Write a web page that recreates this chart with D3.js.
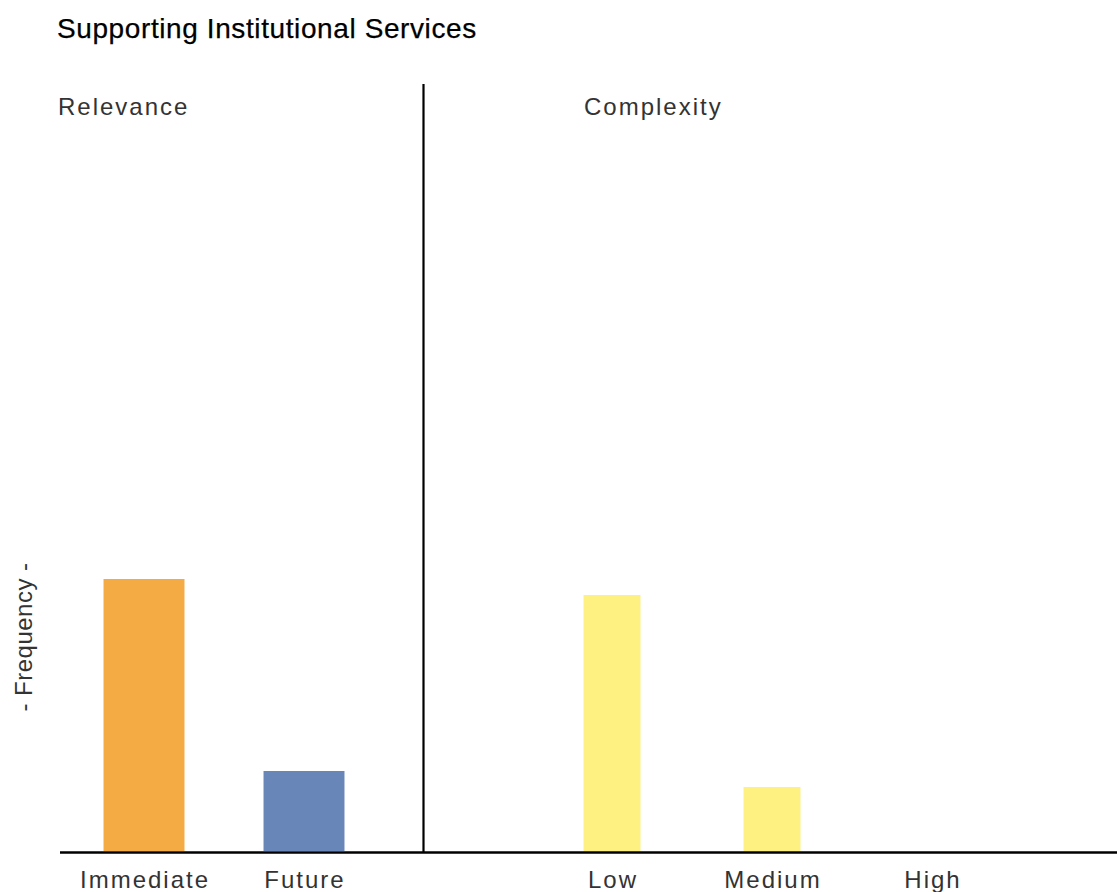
<!DOCTYPE html>
<html>
<head>
<meta charset="utf-8">
<script src="https://cdn.jsdelivr.net/npm/d3@7"></script>
<style>
  html, body { margin: 0; padding: 0; background: #fff; }
  text { font-family: "Liberation Sans", Arial, sans-serif; }
</style>
</head>
<body>
<svg id="chart" width="1117" height="892"></svg>
<script>
const title = "Supporting Institutional Services";
const yAxisLabel = "- Frequency -";

const relevanceTitle = "Relevance";
const relevanceCategories = ["Immediate", "Future"];
const relevanceValues = [17, 5];
const relevanceColors = ["#F4AB44", "#6887B8"];

const complexityTitle = "Complexity";
const complexityCategories = ["Low", "Medium", "High"];
const complexityValues = [16, 4, 0];
const complexityColors = ["#FFF082", "#FFF082", "#FFF082"];

const yMax = 48;

const svg = d3.select("#chart");
const baseY = 851;
const topY = 83;
const LS = 2;

const y = d3.scaleLinear().domain([0, yMax]).range([baseY, topY]);

const xRel = d3.scaleBand().domain(relevanceCategories).range([64, 384])
  .paddingInner(0.494).paddingOuter(0.247);
const xCom = d3.scaleBand().domain(complexityCategories).range([532, 1012])
  .paddingInner(0.644).paddingOuter(0.322);

// title
svg.append("text").attr("x", 57).attr("y", 38)
  .attr("font-size", 28).attr("letter-spacing", 0.6)
  .attr("fill", "#000").attr("stroke", "#000").attr("stroke-width", 0.25)
  .text(title);

// panel titles
svg.append("text").attr("x", 58).attr("y", 115)
  .attr("font-size", 24).attr("letter-spacing", LS).attr("fill", "#333").text(relevanceTitle);
svg.append("text").attr("x", 584).attr("y", 115)
  .attr("font-size", 24).attr("letter-spacing", LS).attr("fill", "#333").text(complexityTitle);

// y axis label
svg.append("text")
  .attr("transform", "translate(32,637) rotate(-90)")
  .attr("text-anchor", "middle")
  .attr("font-size", 24).attr("letter-spacing", 0.5).attr("fill", "#333").text(yAxisLabel);

// bars
svg.append("g").selectAll("rect").data(relevanceCategories).join("rect")
  .attr("x", d => xRel(d))
  .attr("width", xRel.bandwidth())
  .attr("y", (d, i) => y(relevanceValues[i]))
  .attr("height", (d, i) => baseY - y(relevanceValues[i]))
  .attr("fill", (d, i) => relevanceColors[i]);

svg.append("g").selectAll("rect").data(complexityCategories).join("rect")
  .attr("x", d => xCom(d))
  .attr("width", xCom.bandwidth())
  .attr("y", (d, i) => y(complexityValues[i]))
  .attr("height", (d, i) => baseY - y(complexityValues[i]))
  .attr("fill", (d, i) => complexityColors[i]);

// category labels via axes
function styleAxis(g) {
  g.select(".domain").remove();
  g.selectAll(".tick line").remove();
  g.selectAll(".tick text")
    .attr("font-family", "Liberation Sans, Arial, sans-serif")
    .attr("font-size", 24).attr("letter-spacing", LS).attr("fill", "#333")
    .attr("dy", null).attr("y", 37).attr("x", LS / 2);
}
svg.append("g").attr("transform", `translate(0,${baseY})`)
  .call(d3.axisBottom(xRel).tickSize(0)).call(styleAxis);
svg.append("g").attr("transform", `translate(0,${baseY})`)
  .call(d3.axisBottom(xCom).tickSize(0)).call(styleAxis);

// divider and baseline
svg.append("line").attr("x1", 423.5).attr("x2", 423.5).attr("y1", topY + 1).attr("y2", baseY + 1)
  .attr("stroke", "#000").attr("stroke-width", 2.2);
svg.append("line").attr("x1", 60).attr("x2", 1117).attr("y1", baseY + 1.5).attr("y2", baseY + 1.5)
  .attr("stroke", "#000").attr("stroke-width", 2.6);
</script>
</body>
</html>
